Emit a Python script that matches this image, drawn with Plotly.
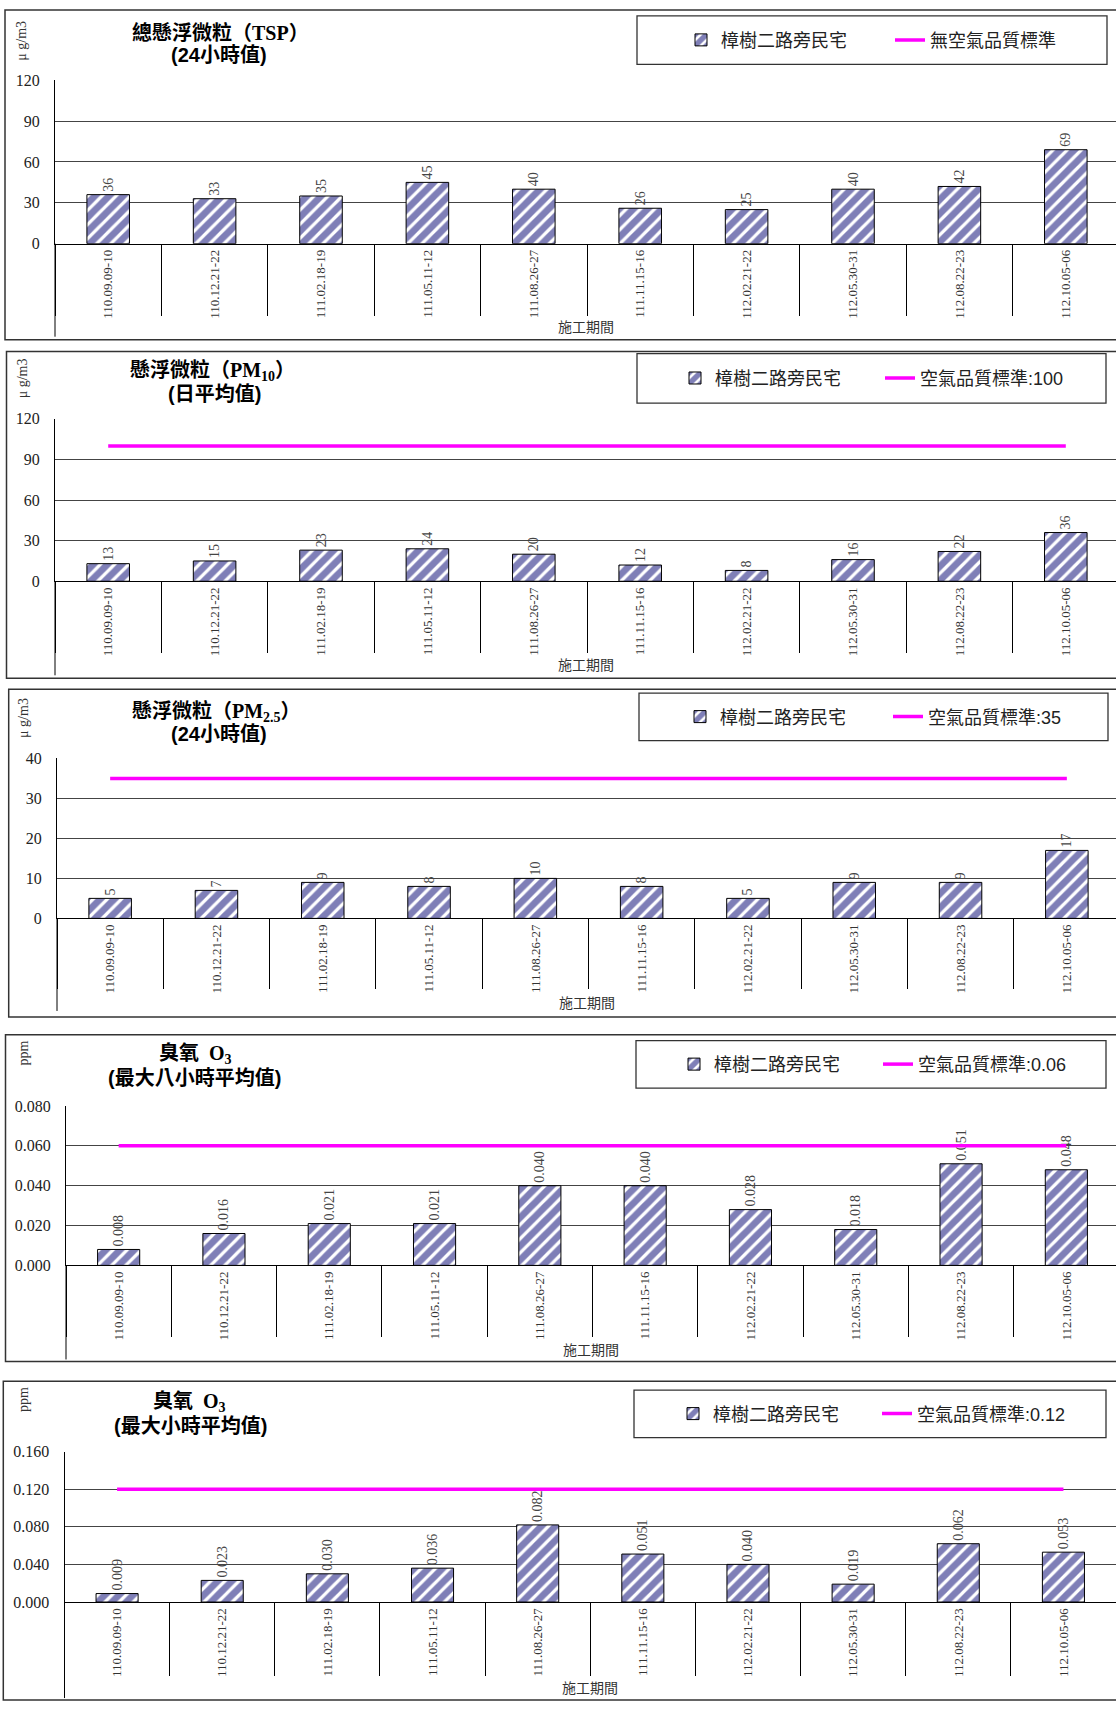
import plotly.graph_objects as go

W, H = 1116, 1713

# ---- data ----
categories = ["110.09.09-10", "110.12.21-22", "111.02.18-19", "111.05.11-12", "111.08.26-27",
              "111.11.15-16", "112.02.21-22", "112.05.30-31", "112.08.22-23", "112.10.05-06"]
site_name = "樟樹二路旁民宅"

tsp = [36, 33, 35, 45, 40, 26, 25, 40, 42, 69]
pm10 = [13, 15, 23, 24, 20, 12, 8, 16, 22, 36]
pm25 = [5, 7, 9, 8, 10, 8, 5, 9, 9, 17]
o3_8h = [0.008, 0.016, 0.021, 0.021, 0.040, 0.040, 0.028, 0.018, 0.051, 0.048]
o3_1h = [0.009, 0.023, 0.030, 0.036, 0.082, 0.051, 0.040, 0.019, 0.062, 0.053]

standards = [None, 100, 35, 0.06, 0.12]
standard_names = ["無空氣品質標準", "空氣品質標準:100", "空氣品質標準:35",
                  "空氣品質標準:0.06", "空氣品質標準:0.12"]
series = [tsp, pm10, pm25, o3_8h, o3_1h]

titles_1 = ["總懸浮微粒（TSP）", "懸浮微粒（PM<sub>10</sub>）", "懸浮微粒（PM<sub>2.5</sub>）",
            "臭氧  O<sub>3</sub>", "臭氧  O<sub>3</sub>"]
titles_2 = ["(24小時值)", "(日平均值)", "(24小時值)", "(最大八小時平均值)", "(最大小時平均值)"]
units = ["μ g/m3", "μ g/m3", "μ g/m3", "ppm", "ppm"]
y_max = [120, 120, 40, 0.08, 0.16]
y_dtick = [30, 30, 10, 0.02, 0.04]
y_fmt = ["d", "d", "d", ".3f", ".3f"]
label_fmt = ["%{y}", "%{y}", "%{y}", "%{y:.3f}", "%{y:.3f}"]
x_title = "施工期間"

# ---- geometry (pixels) ----
# plot left, top(max), bottom(0), right, divider length, axis extension bottom, x-title y
plot_geo = [
    (55, 73, 238, 1119, 71, 332, 322),
    (55, 415, 579, 1119, 71, 674, 664),
    (57, 758, 919.5, 1120, 70, 1013, 1005),
    (66, 1109, 1270, 1119, 71, 1365, 1355),
    (64.5, 1458, 1610, 1116, 73, 1707, 1697),
]
panel_box = [(5, 2, 335), (6.5, 347, 677), (8.7, 688, 1019), (5.5, 1037, 1367), (3.3, 1387, 1709)]
legend_box = [(637, 1107, 8, 57), (637, 1106, 349, 399), (639, 1108, 692, 740),
              (636, 1106, 1043, 1091), (634, 1106, 1396, 1444)]
legend_text_x = [(721, 930), (715, 920), (720, 928), (714, 918), (713, 917)]
title_pos = [((220, 25), (219, 47)), ((212, 367), (214, 390)), ((216, 711), (219, 733)),
             ((195, 1057), (194, 1081)), ((189, 1408), (190, 1432))]
unit_pos = [(22, 33), (22, 374), (24, 717), (24, 1056), (23, 1406)]

SERIF = "Liberation Serif, Noto Sans CJK TC"
SANS = "Liberation Sans, Noto Sans CJK TC"


def fx(px):
    return px / W


def fy(py):
    return 1 - py / H


fig = go.Figure()
layout = dict(width=W, height=H, margin=dict(l=0, r=0, t=0, b=0),
              paper_bgcolor="white", plot_bgcolor="white",
              font=dict(family=SERIF, color="#222"), showlegend=True)
shapes, annotations = [], []
n_cat = len(categories)
boundaries = [k - 0.5 for k in range(n_cat + 1)]

for i in range(5):
    n = i + 1
    sfx = "" if n == 1 else str(n)
    xa, ya = "x" + sfx, "y" + sfx
    xd = str(n + 5)  # overlay axis carrying the category dividers
    lg1 = "legend" if i == 0 else f"legend{2 * i + 1}"
    lg2 = f"legend{2 * i + 2}"
    left, top, bottom, right, tl, ext, xty = plot_geo[i]

    fig.add_trace(go.Bar(
        x=categories, y=series[i], xaxis=xa, yaxis=ya, legend=lg1, name=site_name,
        width=0.4,
        marker=dict(color="white", line=dict(color="black", width=1),
                    pattern=dict(shape="/", fgcolor="#000070", bgcolor="white",
                                 size=10, solidity=0.68)),
        texttemplate=label_fmt[i], textposition="outside", textangle=-90,
        textfont=dict(family=SERIF, size=14, color="#444"),
        cliponaxis=False, constraintext="none", hoverinfo="x+y",
    ))
    std = standards[i]
    fig.add_trace(go.Scatter(
        x=categories, y=[std] * n_cat, xaxis=xa, yaxis=ya, legend=lg2,
        name=standard_names[i], mode="lines",
        line=dict(color="#FF00FF", width=3.5),
    ))
    # empty trace so the divider axis gets drawn
    fig.add_trace(go.Scatter(x=[None], y=[None], xaxis="x" + xd, yaxis=ya,
                             showlegend=False, hoverinfo="skip"))

    step = (right - left) / n_cat
    hi = n_cat - 0.5 - max(0, right - W) / step
    layout["xaxis" + sfx] = dict(
        domain=[fx(left), 1], range=[-0.5, hi], anchor=ya, type="category",
        showline=True, linecolor="black", linewidth=1, ticks="",
        tickangle=-90, tickfont=dict(family=SERIF, size=13, color="#333"),
        showgrid=False, zeroline=False, fixedrange=True,
    )
    layout["xaxis" + xd] = dict(
        domain=[fx(left), 1], range=[-0.5, hi], anchor=ya, overlaying=xa, type="linear",
        tickmode="array", tickvals=boundaries, showticklabels=False,
        ticks="outside", ticklen=tl, tickcolor="black", tickwidth=1,
        showline=False, showgrid=False, zeroline=False, fixedrange=True,
    )
    layout["yaxis" + sfx] = dict(
        domain=[fy(bottom), fy(top)], range=[0, y_max[i]], tick0=0, dtick=y_dtick[i],
        tickformat=y_fmt[i], anchor=xa, showline=True, linecolor="black", linewidth=1,
        showgrid=True, gridcolor="#444", gridwidth=1, zeroline=False,
        ticks="", ticklabelstandoff=11,
        tickfont=dict(family=SERIF, size=16, color="#222"), fixedrange=True,
    )

    # legends
    for lg, tx in ((lg1, legend_text_x[i][0]), (lg2, legend_text_x[i][1])):
        layout[lg] = dict(
            x=fx(tx - 40), xanchor="left",
            y=fy((legend_box[i][2] + legend_box[i][3]) / 2), yanchor="middle",
            orientation="h", bgcolor="rgba(0,0,0,0)", borderwidth=0,
            font=dict(family=SANS, size=18, color="#222"),
        )

    # panel border, legend box, y-axis extension
    bx, by0, by1 = panel_box[i]
    shapes.append(dict(type="rect", xref="paper", yref="paper", x0=fx(bx), x1=fx(W + 10),
                       y0=fy(by1), y1=fy(by0), line=dict(color="#333", width=1.5)))
    lx0, lx1, ly0, ly1 = legend_box[i]
    shapes.append(dict(type="rect", xref="paper", yref="paper", x0=fx(lx0), x1=fx(lx1),
                       y0=fy(ly1), y1=fy(ly0), line=dict(color="#333", width=1.3)))
    shapes.append(dict(type="line", xref="paper", yref="paper", x0=fx(left), x1=fx(left),
                       y0=fy(bottom), y1=fy(ext), line=dict(color="black", width=1)))

    # titles and labels
    (t1x, t1y), (t2x, t2y) = title_pos[i]
    annotations.append(dict(text="<b>" + titles_1[i] + "</b>", x=fx(t1x), y=fy(t1y),
                            xref="paper", yref="paper", showarrow=False,
                            xanchor="center", yanchor="middle",
                            font=dict(family=SERIF, size=20, color="black")))
    annotations.append(dict(text="<b>" + titles_2[i] + "</b>", x=fx(t2x), y=fy(t2y),
                            xref="paper", yref="paper", showarrow=False,
                            xanchor="center", yanchor="middle",
                            font=dict(family=SANS, size=20, color="black")))
    ux, uy = unit_pos[i]
    annotations.append(dict(text=units[i], x=fx(ux), y=fy(uy), xref="paper", yref="paper",
                            showarrow=False, textangle=-90, xanchor="center", yanchor="middle",
                            font=dict(family=SERIF, size=14, color="#333")))
    annotations.append(dict(text=x_title, x=0.5, y=fy(xty), xref=xa + " domain", yref="paper",
                            showarrow=False, xanchor="center", yanchor="middle",
                            font=dict(family=SANS, size=14, color="#333")))

layout["shapes"] = shapes
layout["annotations"] = annotations
fig.update_layout(**layout)

fig.write_html("out.html", config={"displayModeBar": False},
               post_script="document.body.style.margin='0';")
